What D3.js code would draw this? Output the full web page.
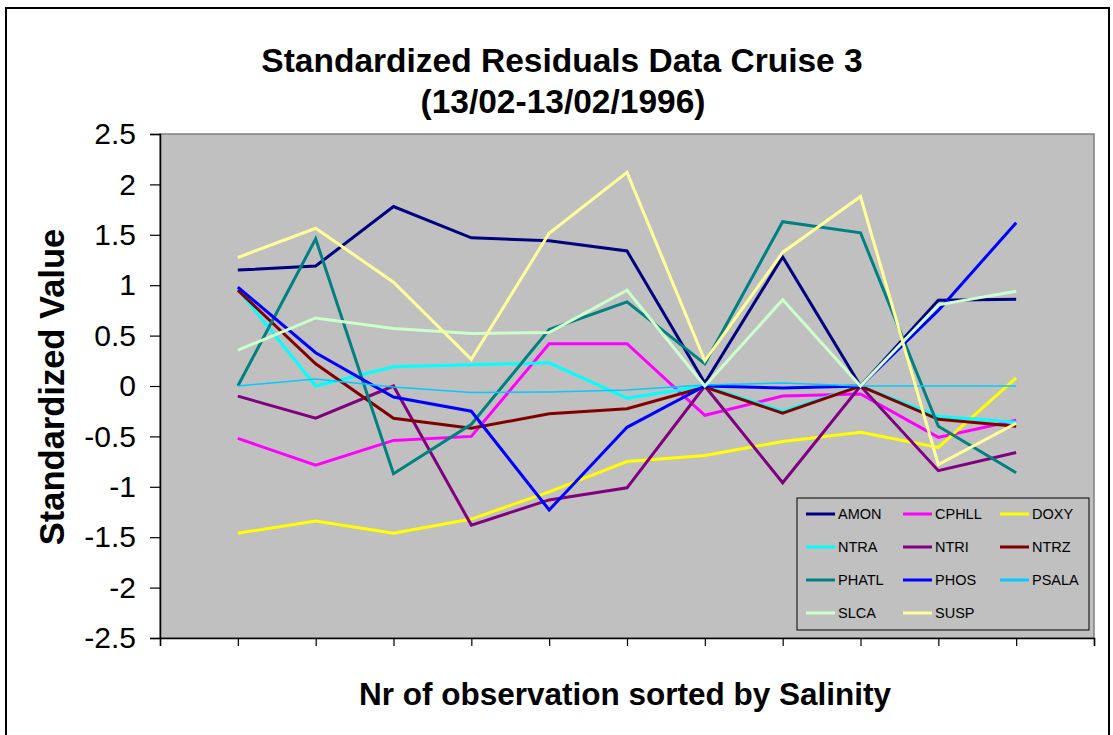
<!DOCTYPE html>
<html>
<head>
<meta charset="utf-8">
<script src="https://cdn.jsdelivr.net/npm/d3@7"></script>
<style>
  html, body { margin: 0; padding: 0; background: #fff; }
  svg { display: block; font-family: "Liberation Sans", Arial, sans-serif; }
</style>
</head>
<body>
<svg id="chart" width="1113" height="735"></svg>
<script>
// ---- data ----
const observations = [1, 2, 3, 4, 5, 6, 7, 8, 9, 10, 11];
const seriesNames = ["AMON", "CPHLL", "DOXY", "NTRA", "NTRI", "NTRZ", "PHATL", "PHOS", "PSALA", "SLCA", "SUSP"];
const AMON  = [1.15, 1.19, 1.78, 1.47, 1.44, 1.34, 0.03, 1.28, 0.00, 0.85, 0.86];
const CPHLL = [-0.52, -0.785, -0.54, -0.50, 0.42, 0.42, -0.29, -0.10, -0.08, -0.51, -0.34];
const DOXY  = [-1.46, -1.34, -1.46, -1.32, -1.05, -0.75, -0.69, -0.55, -0.46, -0.61, 0.08];
const NTRA  = [0.96, 0.00, 0.19, 0.21, 0.23, -0.12, 0.00, -0.25, 0.00, -0.30, -0.36];
const NTRI  = [-0.10, -0.32, 0.00, -1.38, -1.13, -1.01, 0.00, -0.96, 0.00, -0.84, -0.66];
const NTRZ  = [0.95, 0.22, -0.32, -0.42, -0.275, -0.225, -0.01, -0.27, 0.00, -0.33, -0.40];
const PHATL = [0.00, 1.46, -0.87, -0.38, 0.56, 0.835, 0.22, 1.63, 1.52, -0.40, -0.86];
const PHOS  = [0.98, 0.33, -0.11, -0.25, -1.23, -0.41, 0.00, -0.02, 0.00, 0.75, 1.62];
const PSALA = [0.00, 0.07, -0.01, -0.065, -0.06, -0.04, 0.01, 0.03, 0.00, 0.00, 0.00];
const SLCA  = [0.355, 0.675, 0.57, 0.52, 0.53, 0.95, 0.00, 0.855, 0.00, 0.805, 0.94];
const SUSP  = [1.275, 1.565, 1.03, 0.265, 1.515, 2.12, 0.25, 1.325, 1.88, -0.78, -0.37];
const seriesValues = [AMON, CPHLL, DOXY, NTRA, NTRI, NTRZ, PHATL, PHOS, PSALA, SLCA, SUSP];
const yTickValues = [2.5, 2, 1.5, 1, 0.5, 0, -0.5, -1, -1.5, -2, -2.5];
const yTickLabels = ["2.5", "2", "1.5", "1", "0.5", "0", "-0.5", "-1", "-1.5", "-2", "-2.5"];
const titleLines = ["Standardized Residuals Data Cruise 3", "(13/02-13/02/1996)"];
const xTitle = "Nr of observation sorted by Salinity";
const yTitle = "Standardized Value";

// ---- styles ----
const colors = {
  AMON: "#000080", CPHLL: "#FF00FF", DOXY: "#FFFF00", NTRA: "#00FFFF",
  NTRI: "#800080", NTRZ: "#800000", PHATL: "#008080", PHOS: "#0000FF",
  PSALA: "#00CCFF", SLCA: "#CCFFCC", SUSP: "#FFFF99"
};
const widths = { PSALA: 1.5 };

const svg = d3.select("#chart");
const plot = { left: 160, right: 1094, top: 134, bottom: 638 };

// outer frame
svg.append("rect").attr("x", 6).attr("y", 8).attr("width", 1103).attr("height", 760)
  .attr("fill", "#fff").attr("stroke", "#000").attr("stroke-width", 2);

const x = d3.scaleLinear().domain([0, 12]).range([plot.left, plot.right]);
const y = d3.scaleLinear().domain([-2.5, 2.5]).range([plot.bottom, plot.top]);

// plot area
svg.append("rect").attr("x", plot.left).attr("y", plot.top)
  .attr("width", plot.right - plot.left).attr("height", plot.bottom - plot.top)
  .attr("fill", "#C0C0C0").attr("stroke", "#808080").attr("stroke-width", 1.5);

// axes
const yAxis = svg.append("g").attr("transform", `translate(${plot.left},0)`)
  .call(d3.axisLeft(y).tickValues(yTickValues).tickSize(10).tickPadding(14)
    .tickFormat((d, i) => yTickLabels[i]));
yAxis.selectAll("text").attr("font-size", 30).attr("fill", "#000")
  .attr("font-family", "'Liberation Sans', Arial, sans-serif");
yAxis.selectAll("line").attr("stroke", "#000").attr("stroke-width", 1.2);
yAxis.select(".domain").attr("stroke", "#000").attr("stroke-width", 1.5);

const xAxis = svg.append("g").attr("transform", `translate(0,${plot.bottom})`)
  .call(d3.axisBottom(x).tickValues(d3.range(0, 13)).tickSize(8).tickFormat(""));
xAxis.selectAll("line").attr("stroke", "#000").attr("stroke-width", 1.2);
xAxis.select(".domain").attr("stroke", "#000").attr("stroke-width", 1.5);

// lines
const line = d3.line().x((d, i) => x(observations[i])).y(d => y(d));
seriesNames.forEach((name, k) => {
  svg.append("path").datum(seriesValues[k])
    .attr("d", line)
    .attr("fill", "none")
    .attr("stroke", colors[name])
    .attr("stroke-width", widths[name] || 3)
    .attr("stroke-linejoin", "miter");
});

// legend
const lg = svg.append("g");
lg.append("rect").attr("x", 797).attr("y", 498).attr("width", 292).attr("height", 132)
  .attr("fill", "#C0C0C0").attr("stroke", "#000").attr("stroke-width", 1);
const colX = [806, 903, 1000];
const rowY = [514, 547, 580, 613];
seriesNames.forEach((name, k) => {
  const cx = colX[k % 3], cy = rowY[Math.floor(k / 3)];
  lg.append("line").attr("x1", cx).attr("x2", cx + 29).attr("y1", cy).attr("y2", cy)
    .attr("stroke", colors[name]).attr("stroke-width", 3);
  lg.append("text").attr("x", cx + 32).attr("y", cy).attr("dy", "0.36em")
    .attr("font-size", 14.5).attr("fill", "#000").text(name);
});

// titles
svg.append("text").attr("x", 562).attr("y", 72).attr("text-anchor", "middle")
  .attr("font-size", 33.5).attr("font-weight", "bold").text(titleLines[0]);
svg.append("text").attr("x", 563).attr("y", 113).attr("text-anchor", "middle")
  .attr("font-size", 33.5).attr("font-weight", "bold").text(titleLines[1]);
svg.append("text").attr("x", 625).attr("y", 705).attr("text-anchor", "middle")
  .attr("font-size", 31.5).attr("font-weight", "bold").text(xTitle);
svg.append("text").attr("transform", "translate(64,387) rotate(-90)").attr("text-anchor", "middle")
  .attr("font-size", 34.5).attr("font-weight", "bold").text(yTitle);
</script>
</body>
</html>
